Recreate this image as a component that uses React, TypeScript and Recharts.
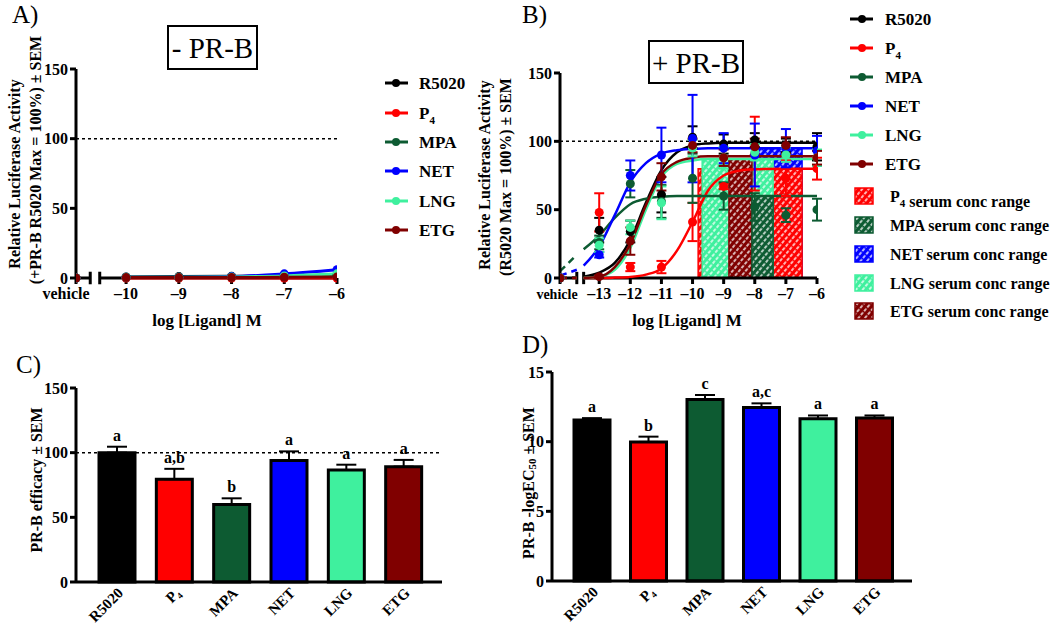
import React from 'react';
import {
  ComposedChart, Line, Scatter, XAxis, YAxis, ErrorBar, ReferenceLine, ReferenceArea, Bar, Cell, LabelList,
} from 'recharts';

const FONT = '"Liberation Serif", "Times New Roman", Times, serif';

// ---------------- data ----------------
const ligands = ['R5020', 'P4', 'MPA', 'NET', 'LNG', 'ETG'];

// Panel A (- PR-B): log concentrations and responses
const vehicleA = -10.95;
const breakA = [-10.68, -10.5];
const concA = [-10, -9, -8, -7, -6];
const aR5020 = [0.8, 1, 1.2, 1.4, 1.8];
const aP4 = [0, 0, 0, 0, 0];
const aMPA = [0.5, 0.5, 0.6, 1, 1.5];
const aNET = [0.5, 0.6, 1, 3, 6];
const aLNG = [0.5, 0.5, 0.8, 1.5, 3];
const aETG = [0.3, 0.3, 0.4, 0.5, 0.8];
const ticksA = [vehicleA, -10, -9, -8, -7, -6];

// Panel B (+ PR-B): measured means and SEM
const vehicleB = -14.26;
const breakB = [-13.72, -13.5];
const concB = [-13, -12, -11, -10, -9, -8, -7, -6];
const r5020Mean = [35, 34, 61, 103, 98, 101, 97, 96];
const r5020Sem = [9, 8, 13, 8, 7, 5, 5, 10];
const p4Mean = [48, 8, 8, 41, 67, 91, 73, 80];
const p4Sem = [14, 3, 4.5, 14, 2, 27, 13, 8];
const mpaMean = [26, 69, 56, 73, 60, 52, 46, 50];
const mpaSem = [5, 10, 12, 18, 10, 10, 5, 8];
const netMean = [17, 75, 90, 102, 95, 90, 95, 93];
const netSem = [2, 11, 20, 32, 11, 23, 14, 11];
const lngMean = [24, 37, 55, 95, 88, 92, 90, 88];
const lngSem = [5, 5, 12, 6, 8, 6, 5, 6];
const etgMean = [1, 27, 74, 97, 88, 96, 97, 88];
const etgSem = [1, 10, 10, 5, 6, 6, 6, 5];
const ticksB = [vehicleB, -13, -12, -11, -10, -9, -8, -7, -6];

// Panel B fitted curves
const fitX = [-13.5, -13, -12.5, -12, -11.5, -11, -10.5, -10, -9.5, -9, -8.5, -8, -7, -6];
const r5020Fit = [1, 4, 11, 28, 55, 79, 92, 97, 98.5, 99, 99, 99, 99, 99];
const p4Fit = [0, 0, 0.3, 0.8, 2.5, 7, 20, 41, 64, 75, 78.5, 79.5, 80, 80];
const mpaFit = [21, 31, 44, 54, 58, 59.5, 60, 60, 60, 60, 60, 60, 60, 60];
const netFit = [9, 23, 46, 70, 84, 91, 93.5, 94.5, 95, 95, 95, 95, 95, 95];
const lngFit = [0, 1, 6, 22, 50, 74, 83.5, 86, 87, 87, 87, 87, 87, 87];
const etgFit = [0, 1, 8, 25, 53, 76, 85, 88, 89, 89, 89, 89, 89, 89];
const dashX = [vehicleB, -13.72];
const r5020Dash = [0, 0.5];
const p4Dash = [0, 0];
const mpaDash = [5, 17];
const netDash = [1.7, 6];
const lngDash = [0, 0];
const etgDash = [0, 0];

// Serum concentration ranges (drawing order back to front)
const serumLigands = ['NET', 'P4', 'LNG', 'ETG', 'MPA'];
const serumLow = [-7.99, -9.82, -9.69, -8.83, -8.09];
const serumHigh = [-6.48, -6.48, -7.41, -8.09, -7.41];
const serumTop = [95, 80, 87, 87, 60];
const serumLegendOrder = ['P4', 'MPA', 'NET', 'LNG', 'ETG'];

// Panel C / D
const efficacy = [100, 79.5, 60, 94, 86.6, 89.2];
const efficacySem = [4.6, 8, 4.7, 7, 4.1, 5.2];
const efficacyLetters = ['a', 'a,b', 'b', 'a', 'a', 'a'];
const pEC50 = [11.56, 9.98, 13.02, 12.45, 11.64, 11.7];
const pEC50Sem = [0.13, 0.38, 0.33, 0.3, 0.24, 0.18];
const pEC50Letters = ['a', 'b', 'c', 'a,c', 'a', 'a'];

// ---------------- styles ----------------
const colorOf: Record<string, string> = {
  R5020: '#000000', P4: '#ff0000', MPA: '#0d5b32', NET: '#0000ff', LNG: '#3ff09e', ETG: '#800000',
};
const axisStroke = { stroke: '#000', strokeWidth: 3 };
const tickFont = { fill: '#000', fontSize: 16, fontWeight: 700, fontFamily: FONT };

const aSeries = [aR5020, aP4, aMPA, aNET, aLNG, aETG];
const bMeans = [r5020Mean, p4Mean, mpaMean, netMean, lngMean, etgMean];
const bSems = [r5020Sem, p4Sem, mpaSem, netSem, lngSem, etgSem];
const bFits = [r5020Fit, p4Fit, mpaFit, netFit, lngFit, etgFit];
const bDash = [r5020Dash, p4Dash, mpaDash, netDash, lngDash, etgDash];

function xLogTick(vehicle: number, vehDx: number, vehSize: number) {
  return (p: any) => {
    const v = p.payload.value;
    const isVeh = Math.abs(v - vehicle) < 1e-6;
    return (
      <text x={p.x + (isVeh ? vehDx : 0)} y={p.y} dy={13} textAnchor="middle" fontFamily={FONT}
        fontWeight={700} fontSize={isVeh ? vehSize : 16} fill="#000">
        {isVeh ? 'vehicle' : `\u2013${Math.abs(v)}`}
      </text>
    );
  };
}

function Dot(color: string) {
  return (p: any) => <circle cx={p.cx} cy={p.cy} r={4.5} fill={color} />;
}

function hatchDefs(prefix: string) {
  return (
    <defs>
      {ligands.map((l) => (
        <pattern key={l} id={`${prefix}-${l}`} patternUnits="userSpaceOnUse" width={5} height={5}
          patternTransform="rotate(40)">
          <rect width={5} height={5} fill={colorOf[l]} />
          <line x1={2} y1={0} x2={2} y2={5} stroke="#fff" strokeWidth={1.4} strokeDasharray="3 1.5" />
        </pattern>
      ))}
    </defs>
  );
}

function PanelA() {
  return (
    <div style={{ position: 'absolute', left: 0, top: 0 }}>
      <ComposedChart width={360} height={330} margin={{ top: 69, right: 23, bottom: 22, left: 36 }}>
        <XAxis dataKey="x" type="number" domain={[vehicleA, -6]} ticks={ticksA} interval={0} allowDataOverflow
          axisLine={false} tickLine={axisStroke} tickSize={6} height={30} tick={xLogTick(vehicleA, -10, 16)} />
        <YAxis type="number" domain={[0, 150]} ticks={[0, 50, 100, 150]} width={40} axisLine={axisStroke}
          tickLine={axisStroke} tickSize={6} tick={tickFont} />
        <ReferenceLine y={100} stroke="#000" strokeWidth={1.5} strokeDasharray="3 3" />
        <ReferenceLine segment={[{ x: vehicleA, y: 0 }, { x: breakA[0], y: 0 }]} stroke="#000" strokeWidth={3} ifOverflow="visible" />
        <ReferenceLine segment={[{ x: breakA[1], y: 0 }, { x: -6, y: 0 }]} stroke="#000" strokeWidth={3} ifOverflow="visible" />
        {breakA.map((b) => (
          <ReferenceLine key={b} segment={[{ x: b, y: -4.5 }, { x: b, y: 4.5 }]} stroke="#000" strokeWidth={3} ifOverflow="visible" />
        ))}
        {ligands.map((l, i) => (
          <Line key={`la-${l}`} data={concA.map((x, j) => ({ x, y: aSeries[i][j] }))} dataKey="y" type="monotone"
            stroke={colorOf[l]} strokeWidth={3} dot={false} isAnimationActive={false} />
        ))}
        {ligands.map((l, i) => (
          <Scatter key={`sa-${l}`} data={[{ x: vehicleA, y: 0 }, ...concA.map((x, j) => ({ x, y: aSeries[i][j] }))]}
            dataKey="y" fill={colorOf[l]} shape={Dot(colorOf[l])} isAnimationActive={false} />
        ))}
      </ComposedChart>
    </div>
  );
}

function PanelB() {
  return (
    <div style={{ position: 'absolute', left: 520, top: 0 }}>
      <ComposedChart width={320} height={330} margin={{ top: 73, right: 23, bottom: 22, left: 0 }}>
        {hatchDefs('hb')}
        <XAxis dataKey="x" type="number" domain={[vehicleB, -6]} ticks={ticksB} interval={0} allowDataOverflow
          axisLine={false} tickLine={axisStroke} tickSize={6} height={30} tick={xLogTick(vehicleB, -3, 14)} />
        <YAxis type="number" domain={[0, 150]} ticks={[0, 50, 100, 150]} width={40} axisLine={axisStroke}
          tickLine={axisStroke} tickSize={6} tick={tickFont} />
        <ReferenceLine y={100} stroke="#000" strokeWidth={1.5} strokeDasharray="3 3" />
        {serumLigands.map((l, i) => (
          <ReferenceArea key={`ra-${l}`} x1={serumLow[i]} x2={serumHigh[i]} y1={0} y2={serumTop[i]}
            fill={`url(#hb-${l})`} fillOpacity={1} stroke={colorOf[l]} strokeWidth={1.5} />
        ))}
        <ReferenceLine segment={[{ x: vehicleB, y: 0 }, { x: breakB[0], y: 0 }]} stroke="#000" strokeWidth={3} ifOverflow="visible" />
        <ReferenceLine segment={[{ x: breakB[1], y: 0 }, { x: -6, y: 0 }]} stroke="#000" strokeWidth={3} ifOverflow="visible" />
        {breakB.map((b) => (
          <ReferenceLine key={b} segment={[{ x: b, y: -4.5 }, { x: b, y: 4.5 }]} stroke="#000" strokeWidth={3} ifOverflow="visible" />
        ))}
        {ligands.map((l, i) => (
          <Line key={`db-${l}`} data={dashX.map((x, j) => ({ x, y: bDash[i][j] }))} dataKey="y" type="linear"
            stroke={colorOf[l]} strokeWidth={2.5} strokeDasharray="7 5" dot={false} isAnimationActive={false} />
        ))}
        {ligands.map((l, i) => (
          <Line key={`fb-${l}`} data={fitX.map((x, j) => ({ x, y: bFits[i][j] }))} dataKey="y" type="monotone"
            stroke={colorOf[l]} strokeWidth={2.5} dot={false} isAnimationActive={false} />
        ))}
        {ligands.map((l, i) => (
          <Scatter key={`sb-${l}`}
            data={[{ x: vehicleB, y: 0, err: 0 }, ...concB.map((x, j) => ({ x, y: bMeans[i][j], err: bSems[i][j] }))]}
            dataKey="y" fill={colorOf[l]} shape={Dot(colorOf[l])} isAnimationActive={false}>
            <ErrorBar dataKey="err" direction="y" width={5} stroke={colorOf[l]} strokeWidth={2} />
          </Scatter>
        ))}
      </ComposedChart>
    </div>
  );
}

function barGeom(p: any) {
  const vb = p.viewBox && p.viewBox.height !== undefined ? p.viewBox : p;
  return { x: Number(vb.x), y: Number(vb.y), w: Number(vb.width), h: Number(vb.height) };
}

function letterContent(values: number[], sems: number[], letters: string[]) {
  return (p: any) => {
    const g = barGeom(p);
    const i = p.index;
    const pxPerUnit = g.h / values[i];
    const topY = g.y - sems[i] * pxPerUnit;
    return (
      <text x={g.x + g.w / 2} y={topY - 6} textAnchor="middle" fontFamily={FONT} fontWeight={700} fontSize={16} fill="#000">
        {letters[i]}
      </text>
    );
  };
}

// category label drawn along a 45° path below the axis, anchored on the bar's own geometry
function categoryLabel(panelId: string) {
  return (p: any) => {
    const g = barGeom(p);
    const name = ligands[p.index];
    const ex = g.x + g.w / 2 + 7;
    const ey = g.y + g.h + 12;
    const L = 60;
    const id = `cat-${panelId}-${p.index}`;
    return (
      <g>
        <defs>
          <path id={id} d={`M ${ex - L * 0.7071} ${ey + L * 0.7071} L ${ex} ${ey}`} />
        </defs>
        <text fontFamily={FONT} fontWeight={700} fontSize={15} fill="#000">
          <textPath href={`#${id}`} startOffset="100%" textAnchor="end">
            {name === 'P4' ? 'P\u2084' : name}
          </textPath>
        </text>
      </g>
    );
  };
}

function BarPanel(props: {
  id: string; left: number; top: number; width: number; height: number; margin: any; values: number[]; sems: number[];
  letters: string[]; domain: [number, number]; ticks: number[]; padding: any; refLine?: number;
}) {
  const data = ligands.map((name, i) => ({ name, v: props.values[i], e: [0, props.sems[i]] }));
  return (
    <div style={{ position: 'absolute', left: props.left, top: props.top }}>
      <ComposedChart width={props.width} height={props.height} data={data} margin={props.margin}>
        <XAxis dataKey="name" type="category" padding={props.padding} interval={0} axisLine={axisStroke}
          tickLine={axisStroke} tickSize={6} height={45} tick={false} />
        <YAxis type="number" domain={props.domain} ticks={props.ticks} width={40} axisLine={axisStroke}
          tickLine={axisStroke} tickSize={6} tick={tickFont} />
        {props.refLine !== undefined && (
          <ReferenceLine y={props.refLine} stroke="#000" strokeWidth={1.5} strokeDasharray="3 3" />
        )}
        <Bar dataKey="v" barSize={36} stroke="#000" strokeWidth={3} isAnimationActive={false}>
          {data.map((d) => <Cell key={d.name} fill={colorOf[d.name]} />)}
          <ErrorBar dataKey="e" direction="y" width={10} stroke="#000" strokeWidth={2} />
          <LabelList dataKey="v" content={letterContent(props.values, props.sems, props.letters)} />
          <LabelList dataKey="name" content={categoryLabel(props.id)} />
        </Bar>
      </ComposedChart>
    </div>
  );
}

function LegendLabel({ name }: { name: string }) {
  if (name === 'P4') return (<><tspan>P</tspan><tspan fontSize={11} dy={5}>4</tspan></>);
  return <>{name}</>;
}

function Overlay() {
  const legA = [83, 113, 142, 171, 201, 230];
  const legB = [19, 48, 77, 106, 135, 164];
  const legS = [196, 225, 254, 283, 311];
  const bold = { fontFamily: FONT, fontWeight: 700, fill: '#000' } as any;
  return (
    <svg width={1050} height={630} style={{ position: 'absolute', left: 0, top: 0, pointerEvents: 'none' }}>
      {hatchDefs('hl')}
      {/* panel letters */}
      <text x={12} y={23} fontFamily={FONT} fontSize={25}>A)</text>
      <text x={522} y={23} fontFamily={FONT} fontSize={25}>B)</text>
      <text x={16} y={373} fontFamily={FONT} fontSize={25}>C)</text>
      <text x={522} y={353} fontFamily={FONT} fontSize={25}>D)</text>
      {/* title boxes */}
      <rect x={168} y={26} width={89} height={43} fill="none" stroke="#000" strokeWidth={2} />
      <text x={212.5} y={58} textAnchor="middle" fontFamily={FONT} fontSize={29}>- PR-B</text>
      <rect x={649} y={41} width={94} height={42} fill="none" stroke="#000" strokeWidth={2} />
      <text x={696} y={73} textAnchor="middle" fontFamily={FONT} fontSize={29}>+ PR-B</text>
      {/* axis titles */}
      <text transform="translate(14,174) rotate(-90)" textAnchor="middle" dominantBaseline="central" fontSize={16} {...bold}>Relative Luciferase Activity</text>
      <text transform="translate(35,160) rotate(-90)" textAnchor="middle" dominantBaseline="central" fontSize={16} {...bold}>(+PR-B R5020 Max = 100%) ± SEM</text>
      <text transform="translate(484,175) rotate(-90)" textAnchor="middle" dominantBaseline="central" fontSize={16} {...bold}>Relative Luciferase Activity</text>
      <text transform="translate(505,177) rotate(-90)" textAnchor="middle" dominantBaseline="central" fontSize={16} {...bold}>(R5020 Max = 100%) ± SEM</text>
      <text x={207} y={326} textAnchor="middle" fontSize={17} {...bold}>log [Ligand] M</text>
      <text x={687} y={326} textAnchor="middle" fontSize={17} {...bold}>log [Ligand] M</text>
      <text transform="translate(36,480) rotate(-90)" textAnchor="middle" dominantBaseline="central" fontSize={16} {...bold}>PR-B efficacy ± SEM</text>
      <text transform="translate(528,483) rotate(-90)" textAnchor="middle" dominantBaseline="central" fontSize={16} {...bold}>
        PR-B -logEC<tspan fontSize={11} dy={4}>50</tspan><tspan dy={-4}> ± SEM</tspan>
      </text>
      {/* legend A */}
      {ligands.map((l, i) => (
        <g key={`lga-${l}`}>
          <line x1={385} x2={408} y1={legA[i]} y2={legA[i]} stroke={colorOf[l]} strokeWidth={3} />
          <circle cx={396} cy={legA[i]} r={4} fill={colorOf[l]} />
          <text x={419} y={legA[i] + 6} fontSize={17} {...bold}><LegendLabel name={l} /></text>
        </g>
      ))}
      {/* legend B */}
      {ligands.map((l, i) => (
        <g key={`lgb-${l}`}>
          <line x1={850} x2={873} y1={legB[i]} y2={legB[i]} stroke={colorOf[l]} strokeWidth={3} />
          <circle cx={862} cy={legB[i]} r={4} fill={colorOf[l]} />
          <text x={885} y={legB[i] + 6} fontSize={17} {...bold}><LegendLabel name={l} /></text>
        </g>
      ))}
      {serumLegendOrder.map((l, i) => (
        <g key={`lgs-${l}`}>
          <rect x={855} y={legS[i] - 8} width={18} height={16} fill={`url(#hl-${l})`} stroke={colorOf[l]} strokeWidth={1.5} />
          <text x={890} y={legS[i] + 6} fontSize={16} {...bold}><LegendLabel name={l} /> serum conc range</text>
        </g>
      ))}
    </svg>
  );
}

export default function App() {
  return (
    <div style={{ position: 'absolute', left: 0, top: 0, width: 1050, height: 630, background: '#fff', overflow: 'hidden' }}>
      <PanelA />
      <PanelB />
      <BarPanel id="c" left={0} top={330} width={470} height={300} margin={{ top: 58, right: 28, bottom: 3, left: 36 }}
        values={efficacy} sems={efficacySem} letters={efficacyLetters} domain={[0, 150]} ticks={[0, 50, 100, 150]}
        padding={{ left: 12, right: 10 }} refLine={100} />
      <BarPanel id="d" left={500} top={330} width={440} height={300} margin={{ top: 42, right: 28, bottom: 4, left: 12 }}
        values={pEC50} sems={pEC50Sem} letters={pEC50Letters} domain={[0, 15]} ticks={[0, 5, 10, 15]}
        padding={{ left: 12, right: 9 }} />
      <Overlay />
    </div>
  );
}
